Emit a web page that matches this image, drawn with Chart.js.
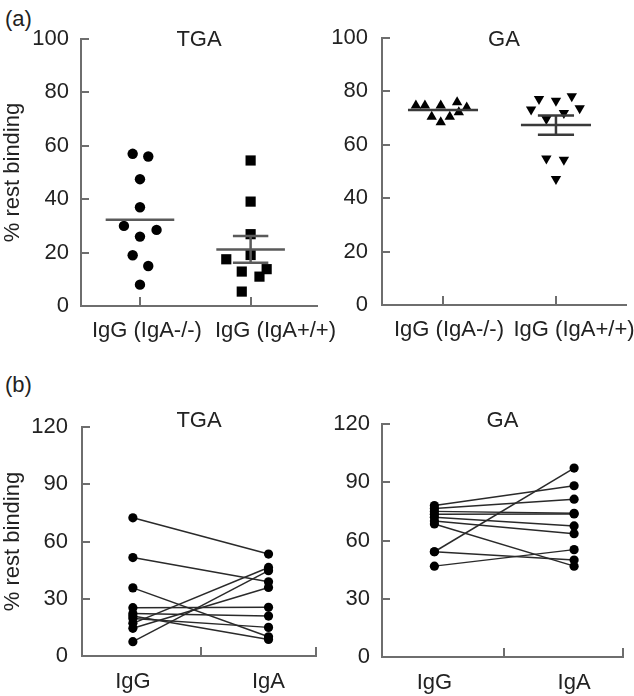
<!DOCTYPE html>
<html><head><meta charset="utf-8">
<script src="https://cdn.jsdelivr.net/npm/chart.js@4/dist/chart.umd.min.js"></script>
<style>
html,body{margin:0;padding:0;background:#fff;}
body{width:634px;height:696px;position:relative;overflow:hidden;font-family:"Liberation Sans",Arial,sans-serif;}
canvas{position:absolute;}
.lab{position:absolute;font-size:22px;line-height:26px;color:#222;}
</style></head><body>
<div class="lab" style="left:5px;top:6px">(a)</div>
<div class="lab" style="left:5px;top:372px">(b)</div>
<canvas id="c1" width="345" height="350" style="left:0;top:0"></canvas>
<canvas id="c2" width="316" height="350" style="left:318px;top:0"></canvas>
<canvas id="c3" width="330" height="336" style="left:0;top:360px"></canvas>
<canvas id="c4" width="316" height="336" style="left:318px;top:360px"></canvas>
<script>
// ---------- DATA ----------
const groupLabelsA = ['IgG (IgA-/-)', 'IgG (IgA+/+)'];
const pairLabelsB = ['IgG', 'IgA'];
const yTicksA = [0, 20, 40, 60, 80, 100];
const yTicksB = [0, 30, 60, 90, 120];

// (a) TGA
const tgaKO = [57, 56, 47.5, 37, 30, 28.5, 26, 19, 15, 8];
const tgaKOJitter = [-0.066, 0.075, 0, 0, -0.145, 0.15, 0, -0.066, 0.075, 0];
const tgaWT = [54.5, 39.1, 26.9, 19.1, 17.5, 13.8, 12.9, 11, 5.4];
const tgaWTJitter = [0, 0, 0, 0, -0.22, 0.145, -0.08, 0.08, -0.08];
const tgaMean = [32.3, 21.2];
const tgaSem = [0, 5.0];

// (a) GA
const gaKO = [74.7, 74.7, 74.7, 75.9, 74.0, 70.5, 70.5, 68.4, 72.2];
const gaKOJitter = [-0.24, -0.16, -0.02, 0.125, 0.21, -0.1, 0.06, -0.02, 0.14];
const gaWT = [77.2, 76.5, 78.2, 73.2, 71.9, 73.7, 69.7, 54.9, 54.4, 47.2];
const gaWTJitter = [-0.15, 0, 0.14, -0.22, 0.07, 0.21, -0.085, -0.085, 0.07, 0];
const gaMean = [73.0, 67.4];
const gaSem = [0, 3.6];

// (b) paired IgG -> IgA
const tgaIgG = [72.4, 51.6, 35.7, 7.5, 17.1, 14.5, 25.3, 22.3, 19.7, 21.0];
const tgaIgA = [53.4, 38.9, 10.1, 44.7, 46.4, 35.9, 25.5, 20.9, 15.0, 8.7];
const gaIgG = [54.2, 46.8, 54.2, 78.0, 76.5, 75.0, 73.5, 72.0, 70.0, 68.5];
const gaIgA = [97.3, 55.3, 49.9, 88.2, 81.3, 74.0, 73.7, 67.5, 63.5, 46.8];

// ---------- STYLE ----------
const FONT = {family: '"Liberation Sans", Arial, sans-serif', size: 22, weight: 'normal'};
const TEXT = '#222';
const AXIS = '#6e6e6e';
const MEAN_HALF = 0.31, CAP_HALF = 0.16;

const inwardTicks = {
  id: 'inwardTicks',
  afterDraw(chart, args, opts) {
    const {ctx, chartArea: ca, scales: {x, y}} = chart;
    ctx.save();
    ctx.strokeStyle = AXIS; ctx.lineWidth = 2;
    ctx.beginPath();
    (opts.yTicks || []).forEach(v => {
      const py = Math.round(y.getPixelForValue(v));
      ctx.moveTo(ca.left, py); ctx.lineTo(ca.left + 8, py);
    });
    (opts.xTicks || []).forEach(v => {
      const px = Math.round(x.getPixelForValue(v));
      ctx.moveTo(px, ca.bottom); ctx.lineTo(px, ca.bottom - 9);
    });
    ctx.stroke();
    ctx.restore();
  }
};

function segment(x1, y1, x2, y2, color, width) {
  return {type: 'line', data: [{x: x1, y: y1}, {x: x2, y: y2}], borderColor: color,
    borderWidth: width, pointRadius: 0, pointHoverRadius: 0, fill: false, order: 0};
}

function makeChart(id, o) {
  return new Chart(document.getElementById(id), {
    type: 'scatter',
    data: {datasets: o.datasets},
    plugins: [inwardTicks],
    options: {
      responsive: false, animation: false, events: [],
      layout: {padding: {left: 0, right: o.padRight, top: 0, bottom: 0}},
      plugins: {
        legend: {display: false}, tooltip: {enabled: false},
        title: {display: true, fullSize: false, text: o.title, font: FONT, color: TEXT,
          padding: {top: o.titleTop, bottom: o.titleBottom}},
        inwardTicks: {yTicks: o.yTicks, xTicks: o.xTickMarks}
      },
      scales: {
        x: {
          type: 'linear', min: o.xMin, max: o.xMax,
          grid: {display: false, drawTicks: false},
          border: {display: true, color: AXIS, width: 2},
          afterBuildTicks: s => { s.ticks = o.xLabelAt.map(v => ({value: v})); },
          afterFit: s => { s.height = o.xHeight; s.paddingLeft = 0; s.paddingRight = 0; },
          ticks: {autoSkip: false, maxRotation: 0, minRotation: 0, padding: o.xPad,
            font: FONT, color: TEXT, callback: (v, i) => o.xLabels[i]}
        },
        y: {
          type: 'linear', min: 0, max: o.yTicks[o.yTicks.length - 1],
          grid: {display: false, drawTicks: false},
          border: {display: true, color: AXIS, width: 2},
          afterBuildTicks: s => { s.ticks = o.yTicks.map(v => ({value: v})); },
          afterFit: s => { s.width = o.yWidth; s.paddingTop = 0; s.paddingBottom = 0; },
          title: {display: !!o.yTitle, text: o.yTitle || '', font: FONT, color: TEXT, padding: 0},
          ticks: {padding: o.yPad, font: FONT, color: TEXT}
        }
      }
    }
  });
}

function dots(values, jitter, center, style, radius, rotation) {
  return {type: 'scatter', data: values.map((v, i) => ({x: center + jitter[i], y: v})),
    pointStyle: style, pointRadius: radius, pointRotation: rotation || 0,
    backgroundColor: '#000', borderColor: '#000', borderWidth: 0, order: 1};
}

function summary(mean, sem, color) {
  const out = [];
  mean.forEach((m, i) => {
    const c = i + 1;
    out.push(segment(c - MEAN_HALF, m, c + MEAN_HALF, m, color, 2.5));
    if (sem[i] > 0) {
      out.push(segment(c, m - sem[i], c, m + sem[i], color, 2.5));
      out.push(segment(c - CAP_HALF, m + sem[i], c + CAP_HALF, m + sem[i], color, 2.5));
      out.push(segment(c - CAP_HALF, m - sem[i], c + CAP_HALF, m - sem[i], color, 2.5));
    }
  });
  return out;
}

function pairs(a, b) {
  const out = [];
  a.forEach((v, i) => {
    out.push({type: 'line', data: [{x: 1, y: v}, {x: 3, y: b[i]}], borderColor: '#2a2a2a',
      borderWidth: 1.5, pointRadius: 4.6, pointStyle: 'circle', backgroundColor: '#000',
      pointBorderWidth: 0, fill: false});
  });
  return out;
}

makeChart('c1', {
  title: 'TGA', titleTop: 26.8, titleBottom: -14.2, padRight: 28, yWidth: 81, xHeight: 44, xPad: 12, yPad: 12,
  xMin: 0.467, xMax: 2.6, xLabelAt: [1.063, 2.225], xLabels: groupLabelsA, xTickMarks: [1, 2],
  yTicks: yTicksA, yTitle: '% rest binding',
  datasets: [dots(tgaKO, tgaKOJitter, 1, 'circle', 5.2), dots(tgaWT, tgaWTJitter, 2, 'rect', 7.2),
    ...summary(tgaMean, tgaSem, '#5a5a5a')]
});
makeChart('c2', {
  title: 'GA', titleTop: 26.8, titleBottom: -15.2, padRight: 8, yWidth: 64, xHeight: 45, xPad: 12, yPad: 14,
  xMin: 0.46, xMax: 2.62, xLabelAt: [1.053, 2.16], xLabels: groupLabelsA, xTickMarks: [1, 2],
  yTicks: yTicksA,
  datasets: [dots(gaKO, gaKOJitter, 1, 'triangle', 6), dots(gaWT, gaWTJitter, 2, 'triangle', 6, 180),
    ...summary(gaMean, gaSem, '#3a3a3a')]
});
makeChart('c3', {
  title: 'TGA', titleTop: 47.8, titleBottom: -7.2, padRight: 14, yWidth: 82, xHeight: 40, xPad: 13, yPad: 14,
  xMin: 0.25, xMax: 3.7, xLabelAt: [1, 3], xLabels: pairLabelsB, xTickMarks: [2, 3.7],
  yTicks: yTicksB, yTitle: '% rest binding',
  datasets: pairs(tgaIgG, tgaIgA)
});
makeChart('c4', {
  title: 'GA', titleTop: 47.8, titleBottom: -10.2, padRight: 11, yWidth: 64, xHeight: 39, xPad: 13, yPad: 12,
  xMin: 0.25, xMax: 3.7, xLabelAt: [1, 3], xLabels: pairLabelsB, xTickMarks: [2, 3.7],
  yTicks: yTicksB,
  datasets: pairs(gaIgG, gaIgA)
});
</script>
</body></html>
